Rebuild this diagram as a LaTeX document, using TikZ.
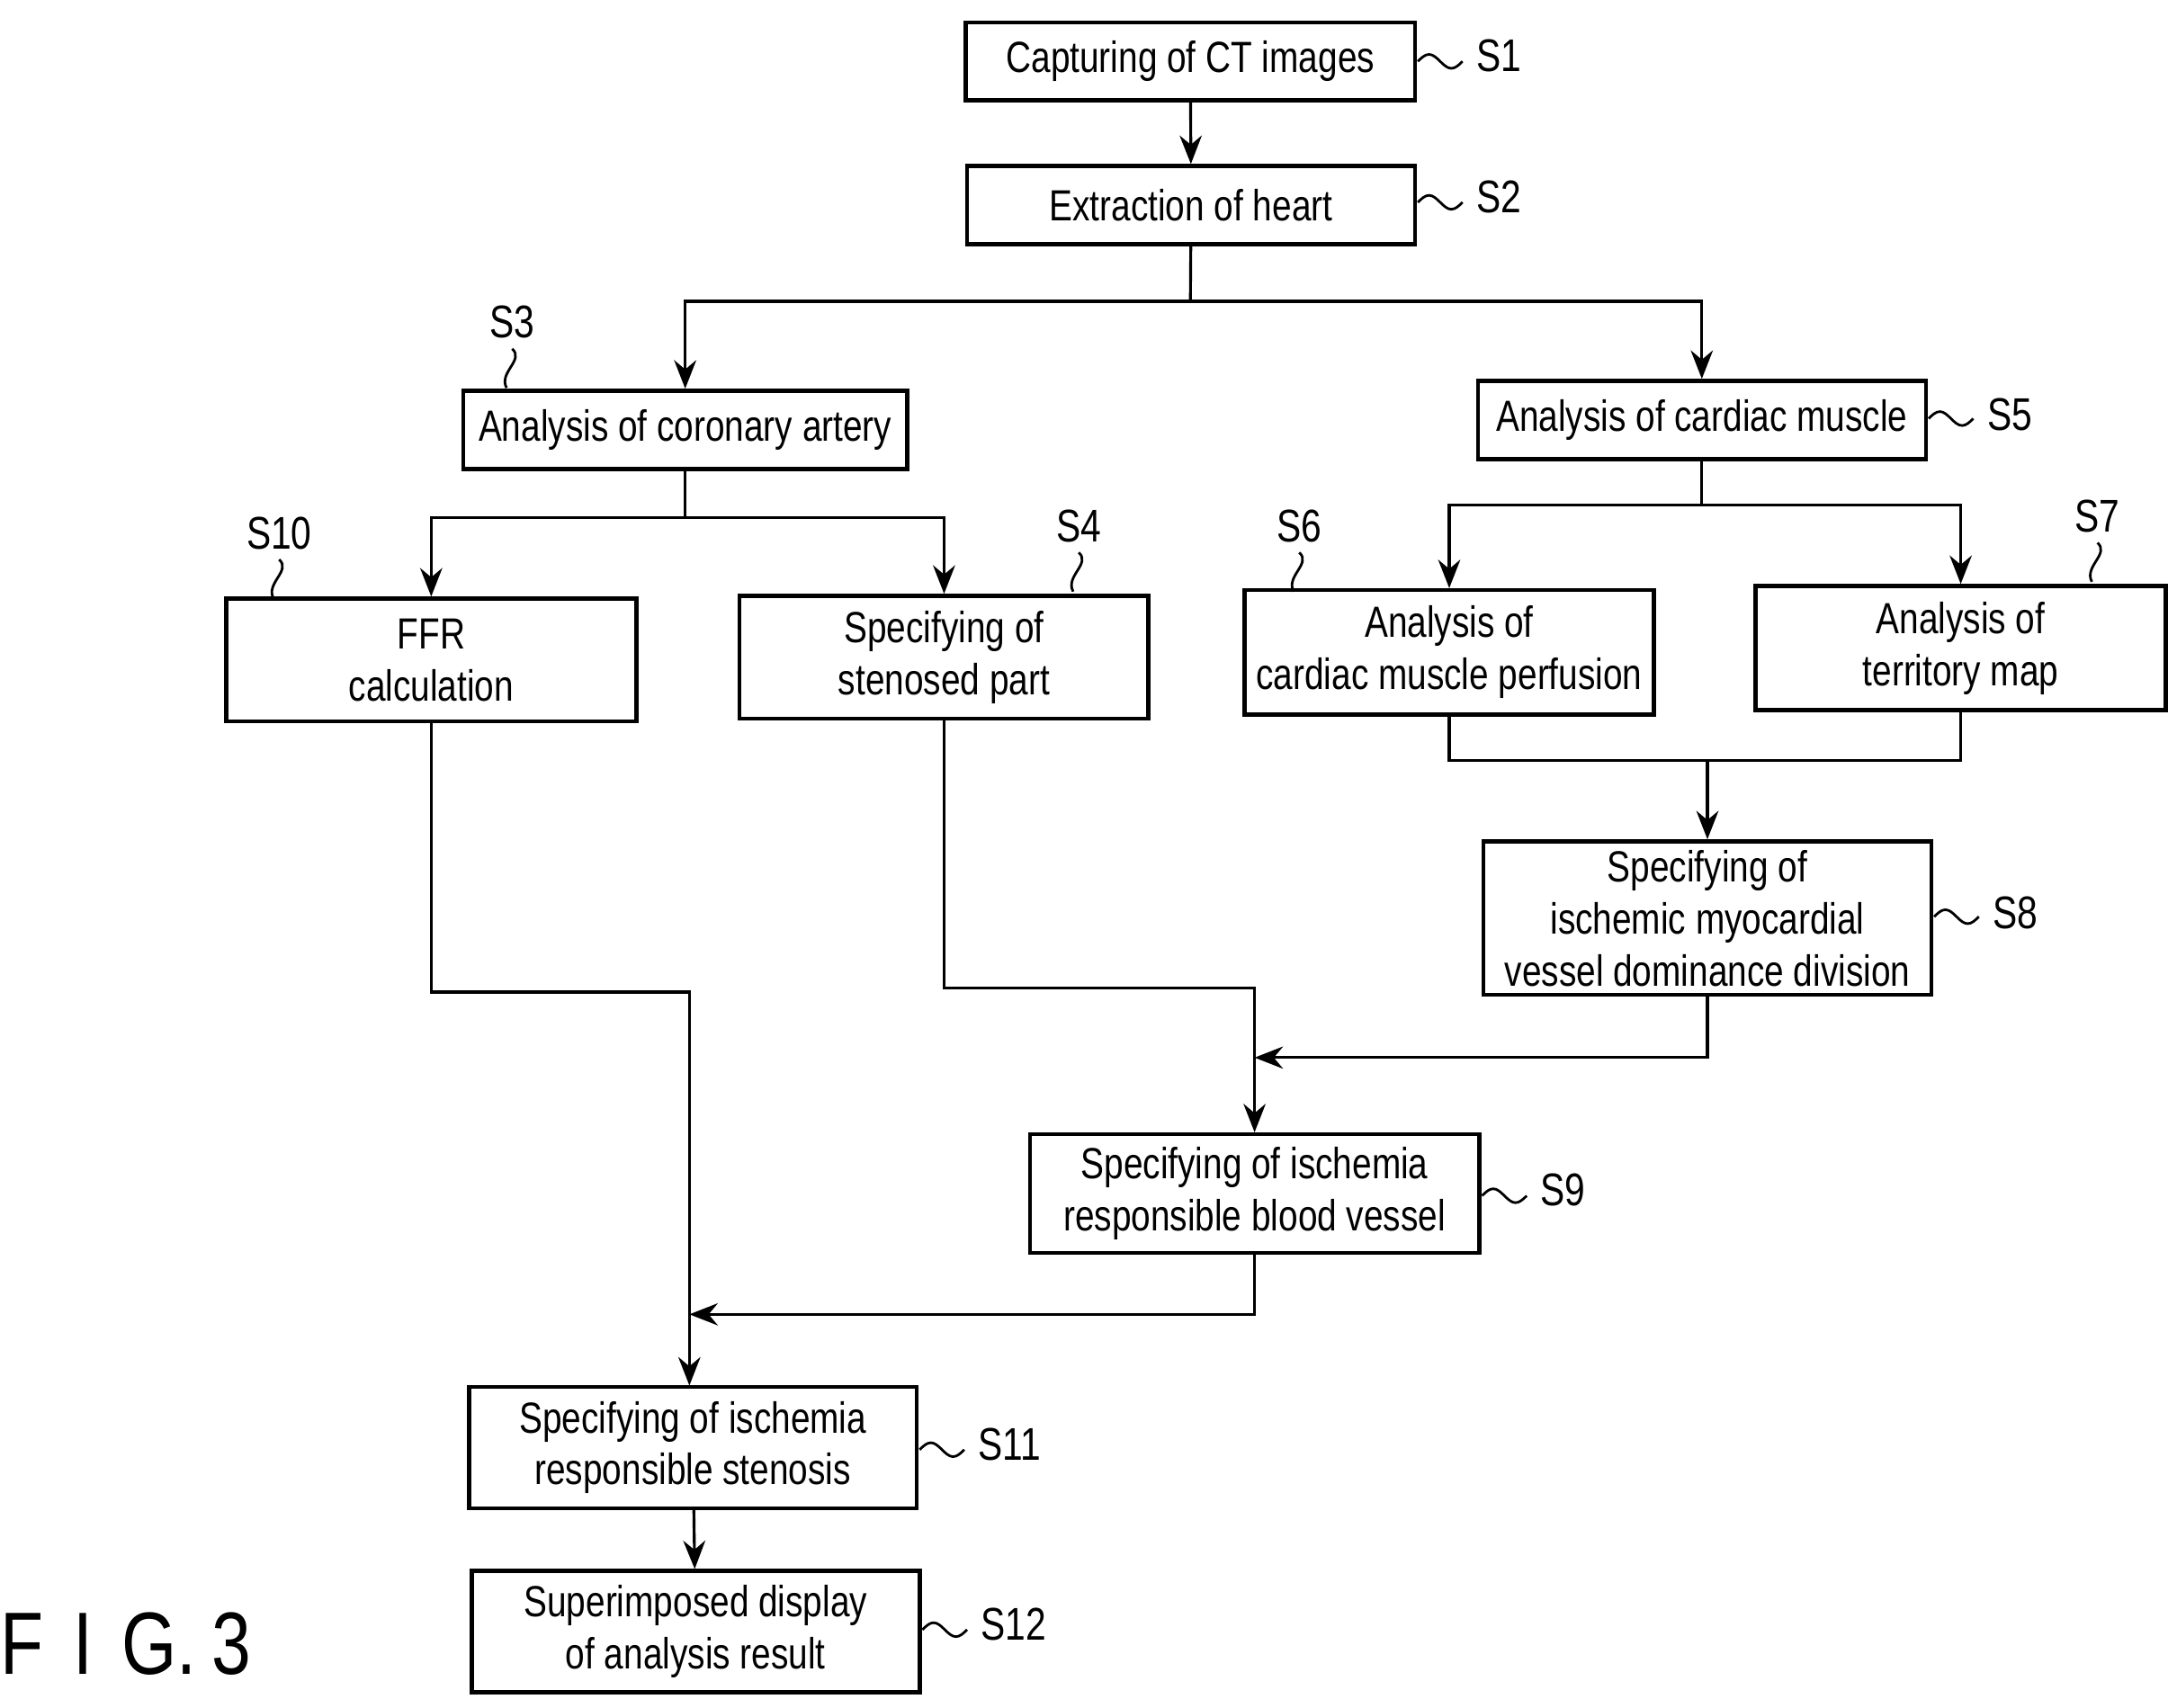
\documentclass[tikz,border=0pt]{standalone}
\usepackage{fontspec}
\setmainfont[FakeStretch=0.8]{Liberation Sans}
\usetikzlibrary{arrows.meta}
\newcommand\B[6]{\node[box,minimum width={(#4-2)*0.015513cm},minimum height={(#5-2)*0.015513cm}] (#1) at (#2,#3) {#6};}
\begin{document}
\begin{tikzpicture}[x=0.015513cm,y=-0.015513cm,
 box/.style={draw,line width=1.3pt,align=center,inner sep=0pt,font=\fontsize{13.8}{16.5}\selectfont},
 ln/.style={line width=0.9pt},
 ar/.style={ln,-{Stealth[length=9pt,width=7pt]}},
 lb/.style={font=\fontsize{14.5}{17}\selectfont,anchor=west},
 sq/.style={line width=0.8pt}]
\useasboundingbox (0,0) rectangle (1560,1224);
\B{s1}{853}{44}{324}{58}{Capturing of CT images}
\B{s2}{853.5}{147}{323}{58}{Extraction of heart}
\B{s3}{491}{308}{320}{58}{Analysis of coronary artery}
\B{s5}{1219.5}{301}{323}{58}{Analysis of cardiac muscle}
\B{s10}{309}{473}{296}{90}{FFR\\calculation}
\B{s4}{676.5}{471}{295}{90}{Specifying of\\stenosed part}
\B{s6}{1038.5}{467.5}{295}{91}{Analysis of\\cardiac muscle perfusion}
\B{s7}{1405}{464.5}{296}{91}{Analysis of\\territory map}
\B{s8}{1223.5}{658}{323}{112}{Specifying of\\ischemic myocardial\\vessel dominance division}
\B{s9}{899}{855.5}{324}{87}{Specifying of ischemia\\responsible blood vessel}
\B{s11}{496.5}{1037.5}{323}{89}{Specifying of ischemia\\responsible stenosis}
\B{s12}{498.5}{1169.5}{323}{89}{Superimposed display\\of analysis result}
% connectors
\draw[ar] (s1) -- (s2);
\coordinate (j2) at (853,216);
\draw[ln] (s2) -- (j2);
\draw[ar] (j2) -| (s3.north);
\draw[ar] (j2) -| (s5.north);
\coordinate (j3) at (491,371);
\draw[ln] (s3) -- (j3);
\draw[ar] (j3) -| (s10.north);
\draw[ar] (j3) -| (s4.north);
\coordinate (j5) at (1219.5,362);
\draw[ln] (s5) -- (j5);
\draw[ar] (j5) -| (s6.north);
\draw[ar] (j5) -| (s7.north);
\coordinate (j67) at (1223.5,545);
\draw[ln] (s6.south) |- (j67) -| (s7.south);
\draw[ar] (j67) -- (s8.north);
\coordinate (j4) at (899,708);
\draw[ar] (s4.south) |- (j4) -- (s9.north);
\coordinate (j8) at (899,758);
\draw[ar] (s8.south) |- (j8);
\coordinate (j10) at (494,711);
\coordinate (j10b) at (494,993);
\draw[ar] (s10.south) |- (j10) -- (j10b);
\coordinate (j9) at (494,942);
\draw[ar] (s9.south) |- (j9);
\draw[ar] (s11) -- (s12);
% labels
\newcommand\hs[1]{\draw[sq] (#1) sin +(8,-5) cos +(8,5) sin +(8,5) cos +(8,-5);}
\coordinate (t1) at (1016,44); \hs{t1} \node[lb] (l1) at (1050,40) {S1};
\coordinate (t2) at (1016,145); \hs{t2} \node[lb] (l2) at (1050,141) {S2};
\coordinate (t5) at (1382,300); \hs{t5} \node[lb] (l5) at (1416,297) {S5};
\coordinate (t8) at (1386,657); \hs{t8} \node[lb] (l8) at (1420,654) {S8};
\coordinate (t9) at (1062,857); \hs{t9} \node[lb] (l9) at (1096,853) {S9};
\coordinate (t11) at (659,1039); \hs{t11} \node[lb] (l11) at (693,1035) {S11};
\coordinate (t12) at (661,1168); \hs{t12} \node[lb] (l12) at (695,1164) {S12};
\newcommand\vs[3]{\node[lb,anchor=center] at (#1,#2) {#3}; \draw[sq] (#1,#2+19) .. controls (#1+9,#2+27) and (#1-10,#2+36) .. (#1-4,#2+47);}
\vs{367}{231}{S3}
\vs{200}{382}{S10}
\vs{773}{377}{S4}
\vs{931}{377}{S6}
\vs{1503}{370}{S7}
\node[font=\fontsize{28}{32}\selectfont] (fig) at (90,1178) {F\,\,I\,\,G.\,3};
\end{tikzpicture}
\end{document}
